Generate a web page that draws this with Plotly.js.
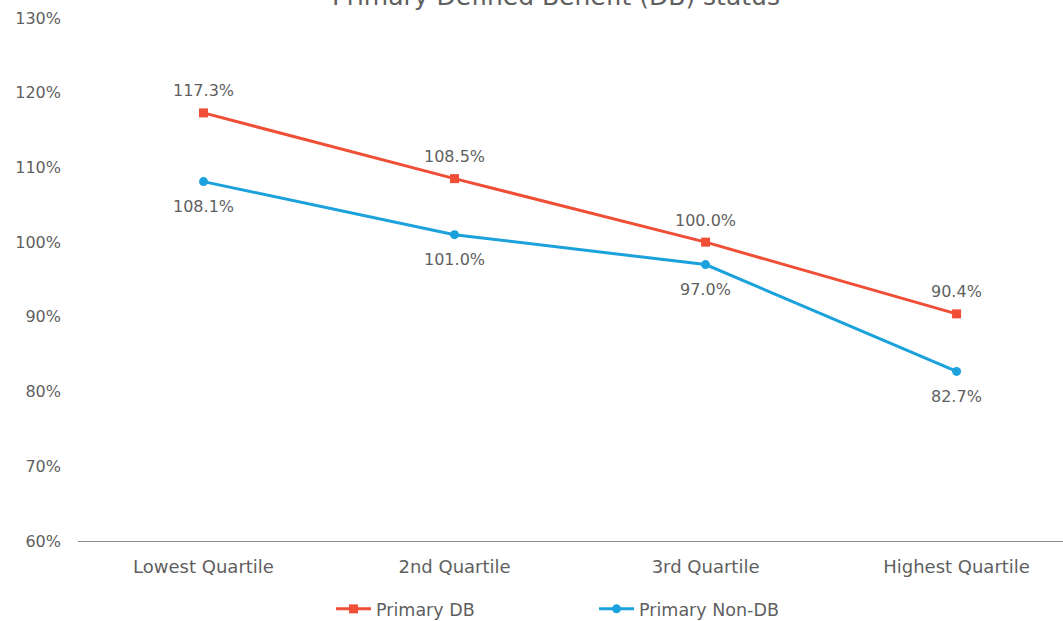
<!DOCTYPE html>
<html>
<head>
<meta charset="utf-8">
<script src="https://cdn.plot.ly/plotly-3.0.1.min.js"></script>
<style>
  html, body { margin: 0; padding: 0; background: #ffffff; }
  #chart { width: 1063px; height: 621px; }
</style>
</head>
<body>
<div id="chart"></div>
<script>
// Income quartiles along the x axis
const quartiles = ['Lowest Quartile', '2nd Quartile', '3rd Quartile', 'Highest Quartile'];

// Ratio values (%) for each group
const primaryDB = [117.3, 108.5, 100.0, 90.4];
const primaryNonDB = [108.1, 101.0, 97.0, 82.7];

const yTicks = [60, 70, 80, 90, 100, 110, 120, 130];

const textGray = '#5f5f5f';
const fontFamily = 'DejaVu Sans, sans-serif';

const fmt = v => v.toFixed(1) + '%';

const dbColor = '#F04E36';
const nonDbColor = '#1BA1DC';

const traces = [
  {
    x: quartiles,
    y: primaryDB,
    name: 'Primary DB',
    type: 'scatter',
    mode: 'lines+markers',
    line: { color: dbColor, width: 3 },
    marker: { symbol: 'square', size: 9, color: dbColor },
    cliponaxis: false,
    hoverinfo: 'skip'
  },
  {
    x: quartiles,
    y: primaryNonDB,
    name: 'Primary Non-DB',
    type: 'scatter',
    mode: 'lines+markers',
    line: { color: nonDbColor, width: 3 },
    marker: { symbol: 'circle', size: 9, color: nonDbColor },
    cliponaxis: false,
    hoverinfo: 'skip'
  }
];

// Value labels: DB above its points, Non-DB below
const labelFont = { family: fontFamily, size: 16, color: textGray };
const valueLabels = [];
quartiles.forEach((q, i) => {
  valueLabels.push({
    x: q, y: primaryDB[i], xref: 'x', yref: 'y',
    text: fmt(primaryDB[i]), showarrow: false,
    yshift: 22, font: labelFont
  });
  valueLabels.push({
    x: q, y: primaryNonDB[i], xref: 'x', yref: 'y',
    text: fmt(primaryNonDB[i]), showarrow: false,
    yshift: -25, font: labelFont
  });
});

const layout = {
  width: 1063,
  height: 621,
  margin: { l: 78, r: 0, t: 18, b: 80, autoexpand: false },
  paper_bgcolor: '#ffffff',
  plot_bgcolor: '#ffffff',
  font: { family: fontFamily, size: 16, color: textGray },
  showlegend: true,
  legend: {
    orientation: 'h',
    x: 0.2569,
    xanchor: 'left',
    y: -0.13,
    yanchor: 'middle',
    font: { family: fontFamily, size: 17.5, color: textGray },
    entrywidth: 213,
    itemwidth: 35
  },
  xaxis: {
    type: 'category',
    range: [-0.5, 3.424],
    showgrid: false,
    zeroline: false,
    showline: true,
    linecolor: '#8c8c8c',
    linewidth: 1,
    ticks: '',
    ticklabelstandoff: 9,
    tickfont: { family: fontFamily, size: 18, color: textGray },
    fixedrange: true
  },
  yaxis: {
    range: [60, 130],
    tickvals: yTicks,
    ticktext: yTicks.map(v => v + '%'),
    showgrid: false,
    zeroline: false,
    showline: false,
    ticks: '',
    ticklabelstandoff: 16,
    tickfont: { family: fontFamily, size: 16, color: textGray },
    fixedrange: true
  },
  annotations: [
    {
      text: 'Primary Defined Benefit (DB) status',
      xref: 'paper',
      yref: 'paper',
      x: 0.485,
      y: 1.042,
      xanchor: 'center',
      yanchor: 'middle',
      showarrow: false,
      font: { family: fontFamily, size: 25, color: textGray }
    }
  ].concat(valueLabels)
};

Plotly.newPlot('chart', traces, layout, { displayModeBar: false, staticPlot: true });
</script>
</body>
</html>
